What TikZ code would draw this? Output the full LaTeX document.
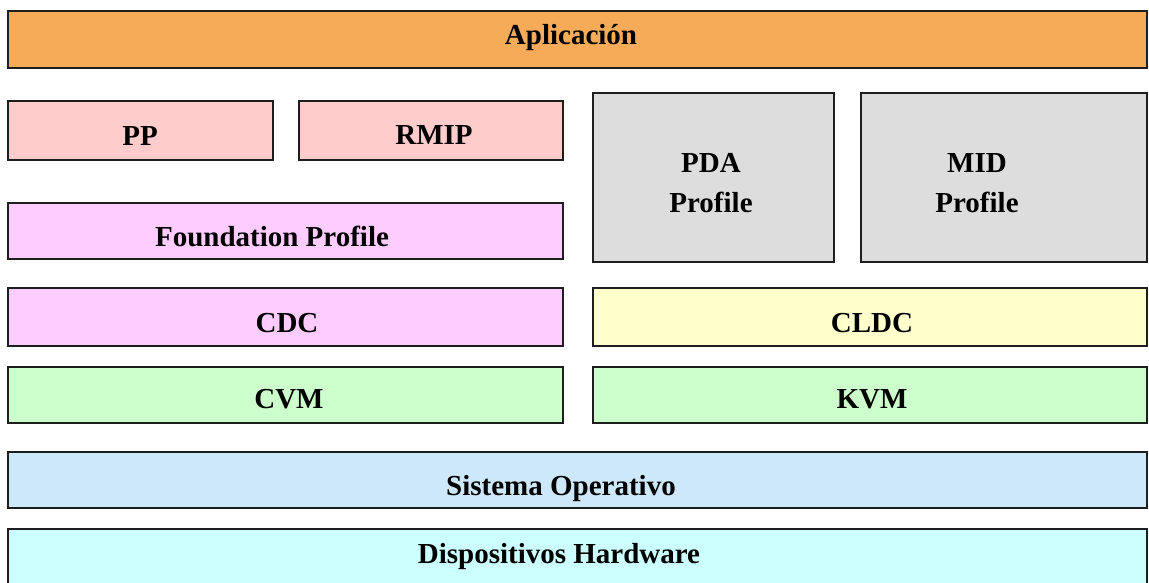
\documentclass[tikz,border=0pt]{standalone}
\usepackage{fontspec}
\setmainfont{Liberation Serif}
\definecolor{cApp}{HTML}{F6AB58}
\definecolor{cOpt}{HTML}{FFCCCC}
\definecolor{cCdc}{HTML}{FFCCFF}
\definecolor{cProf}{HTML}{DDDDDD}
\definecolor{cCldc}{HTML}{FFFFCC}
\definecolor{cVm}{HTML}{CCFFCC}
\definecolor{cOs}{HTML}{CCE8FA}
\definecolor{cHw}{HTML}{CCFFFF}
\definecolor{cLine}{HTML}{1E1E1E}
\tikzset{
  layer/.style={draw=cLine, line width=2pt, inner sep=0pt, outer sep=0pt, anchor=north west},
  lbl/.style={font=\fontsize{29}{40}\selectfont\bfseries, inner sep=0pt, anchor=base, align=center},
}
% \stackbox{x1}{y1}{x2}{y2}{name}{colour}
\newcommand\stackbox[6]{%
  \node[layer, fill=#6, minimum width={(#3-#1)*1pt}, minimum height={(#4-#2)*1pt}] (#5) at (#1,#2) {};}
\begin{document}
\begin{tikzpicture}[x=1pt, y=-1pt]
  \fill[white] (0,0) rectangle (1149,583);
  \useasboundingbox (0,0) rectangle (1149,583);
  \clip (0,0) rectangle (1149,583);

  \stackbox{8}{11}{1147}{68}{app}{cApp}
  \stackbox{8}{101}{273}{160}{pp}{cOpt}
  \stackbox{299}{101}{563}{160}{rmip}{cOpt}
  \stackbox{8}{203}{563}{259}{fp}{cCdc}
  \stackbox{593}{93}{834}{262}{pda}{cProf}
  \stackbox{861}{93}{1147}{262}{mid}{cProf}
  \stackbox{8}{288}{563}{346}{cdc}{cCdc}
  \stackbox{593}{288}{1147}{346}{cldc}{cCldc}
  \stackbox{8}{367}{563}{423}{cvm}{cVm}
  \stackbox{593}{367}{1147}{423}{kvm}{cVm}
  \stackbox{8}{452}{1147}{508}{os}{cOs}
  \stackbox{8}{529}{1147}{600}{hw}{cHw}

  \node[lbl] (appT)  at (571,45)  {Aplicación};
  \node[lbl] (ppT)   at (140,146) {PP};
  \node[lbl] (rmipT) at (434,145) {RMIP};
  \node[lbl] (fpT)   at (272,246) {Foundation Profile};
  \node[lbl] (pdaT)  at (711,212) {PDA\\Profile};
  \node[lbl] (midT)  at (977,212) {MID\\Profile};
  \node[lbl] (cdcT)  at (287,332) {CDC};
  \node[lbl] (cldcT) at (872,332) {CLDC};
  \node[lbl] (cvmT)  at (289,408) {CVM};
  \node[lbl] (kvmT)  at (872,408) {KVM};
  \node[lbl] (osT)   at (561,495) {Sistema Operativo};
  \node[lbl] (hwT)   at (559,563) {Dispositivos Hardware};
\end{tikzpicture}
\end{document}
